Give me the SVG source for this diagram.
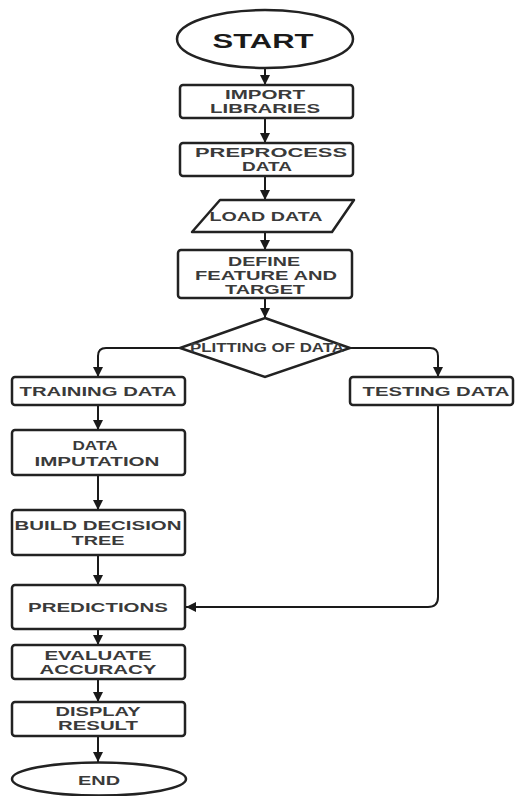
<svg xmlns="http://www.w3.org/2000/svg" width="520" height="796" viewBox="0 0 520 796">
<defs>
<marker id="ah" markerUnits="userSpaceOnUse" markerWidth="11" markerHeight="11" refX="10" refY="5" orient="auto">
<path d="M0,0 L10,5 L0,10 z" fill="#1a1a1a"/>
</marker>
<style>
.s{fill:#fff;stroke:#222;stroke-width:2.5}
.t{font-family:"Liberation Sans",Arial,sans-serif;font-weight:bold;font-size:12px;fill:#3a3a3a;text-anchor:middle}
.b{font-size:13px}
.c{fill:none;stroke:#1a1a1a;stroke-width:2;marker-end:url(#ah)}
</style>
</defs>
<rect width="520" height="796" fill="#fff"/>
<g id="connectors">
<path class="c" d="M265,68 V85"/>
<path class="c" d="M265,118 V143"/>
<path class="c" d="M265,176 V200"/>
<path class="c" d="M265,232 V250"/>
<path class="c" d="M265,298 V318"/>
<path class="c" d="M180,348 H106 Q98,348 98,356 V377"/>
<path class="c" d="M350,348 H430 Q438,348 438,356 V377"/>
<path class="c" d="M98,405 V430"/>
<path class="c" d="M98,475 V510"/>
<path class="c" d="M98,555 V585"/>
<path class="c" d="M438,405 V597 Q438,607 428,607 H186"/>
<path class="c" d="M98,629 V645"/>
<path class="c" d="M98,679 V702"/>
<path class="c" d="M98,736 V762"/>
</g>
<g id="start">
<ellipse class="s" cx="265" cy="39" rx="88" ry="29"/>
<text class="t" x="263" y="48" textLength="101" lengthAdjust="spacingAndGlyphs" style="font-size:21px;fill:#1a1a1a">START</text>
</g>
<g id="import">
<rect class="s" x="180" y="85" width="173" height="33" rx="3"/>
<text class="t" x="265" y="99" textLength="80" lengthAdjust="spacingAndGlyphs">IMPORT</text>
<text class="t" x="265" y="113" textLength="110" lengthAdjust="spacingAndGlyphs">LIBRARIES</text>
</g>
<g id="preprocess">
<rect class="s" x="180" y="143" width="173" height="33" rx="3"/>
<text class="t" x="271" y="157" textLength="152" lengthAdjust="spacingAndGlyphs">PREPROCESS</text>
<text class="t" x="267" y="171" textLength="50" lengthAdjust="spacingAndGlyphs">DATA</text>
</g>
<g id="load">
<polygon class="s" points="220,200 354,200 332,232 192,232" stroke-linejoin="round"/>
<text class="t b" x="266" y="221" textLength="113" lengthAdjust="spacingAndGlyphs">LOAD DATA</text>
</g>
<g id="define">
<rect class="s" x="178" y="250" width="174" height="48" rx="3"/>
<text class="t" x="264" y="266" textLength="72" lengthAdjust="spacingAndGlyphs">DEFINE</text>
<text class="t" x="266" y="280" textLength="142" lengthAdjust="spacingAndGlyphs">FEATURE AND</text>
<text class="t" x="265" y="294" textLength="80" lengthAdjust="spacingAndGlyphs">TARGET</text>
</g>
<g id="split">
<polygon class="s" points="265,318 350,348 265,377 180,348" stroke-width="2"/>
<text class="t" x="267" y="352" textLength="154" lengthAdjust="spacingAndGlyphs">PLITTING OF DATA</text>
</g>
<g id="training">
<rect class="s" x="12" y="377" width="173" height="28" rx="3"/>
<text class="t b" x="98" y="396" textLength="157" lengthAdjust="spacingAndGlyphs">TRAINING DATA</text>
</g>
<g id="testing">
<rect class="s" x="350" y="377" width="163" height="28" rx="3"/>
<text class="t b" x="436" y="396" textLength="147" lengthAdjust="spacingAndGlyphs">TESTING DATA</text>
</g>
<g id="imputation">
<rect class="s" x="12" y="430" width="173" height="45" rx="3"/>
<text class="t" x="95" y="450" textLength="45" lengthAdjust="spacingAndGlyphs">DATA</text>
<text class="t" x="97" y="466" textLength="125" lengthAdjust="spacingAndGlyphs">IMPUTATION</text>
</g>
<g id="build">
<rect class="s" x="12" y="510" width="173" height="45" rx="3"/>
<text class="t" x="98" y="530" textLength="167" lengthAdjust="spacingAndGlyphs">BUILD DECISION</text>
<text class="t" x="98" y="545" textLength="53" lengthAdjust="spacingAndGlyphs">TREE</text>
</g>
<g id="predictions">
<rect class="s" x="12" y="585" width="173" height="44" rx="3"/>
<text class="t b" x="98" y="612" textLength="140" lengthAdjust="spacingAndGlyphs">PREDICTIONS</text>
</g>
<g id="evaluate">
<rect class="s" x="12" y="645" width="173" height="34" rx="3"/>
<text class="t" x="98" y="660" textLength="107" lengthAdjust="spacingAndGlyphs">EVALUATE</text>
<text class="t" x="98" y="674" textLength="117" lengthAdjust="spacingAndGlyphs">ACCURACY</text>
</g>
<g id="display">
<rect class="s" x="12" y="702" width="173" height="34" rx="3"/>
<text class="t" x="98" y="716" textLength="85" lengthAdjust="spacingAndGlyphs">DISPLAY</text>
<text class="t" x="98" y="730" textLength="80" lengthAdjust="spacingAndGlyphs">RESULT</text>
</g>
<g id="end">
<ellipse class="s" cx="99" cy="779" rx="87" ry="16.5"/>
<text class="t b" x="99" y="785" textLength="42" lengthAdjust="spacingAndGlyphs">END</text>
</g>
</svg>
